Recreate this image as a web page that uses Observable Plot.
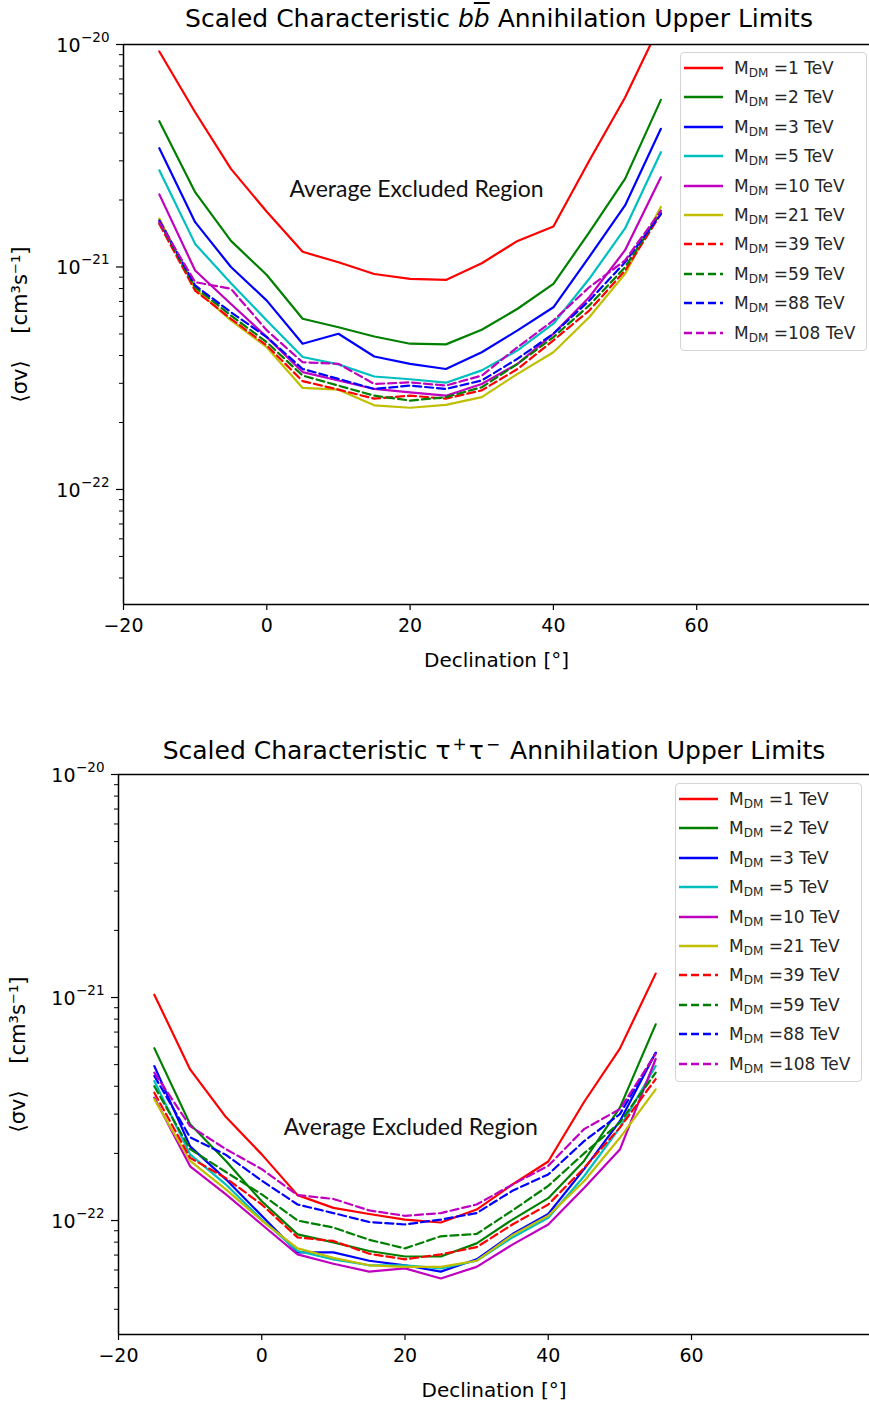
<!DOCTYPE html>
<html><head><meta charset="utf-8">
<script src="https://cdn.jsdelivr.net/npm/d3@7"></script>
<script src="https://cdn.jsdelivr.net/npm/@observablehq/plot@0.6"></script>
<style>
body{margin:0;background:#fff;}
#page{position:relative;width:869px;height:1407px;overflow:hidden;font-family:"DejaVu Sans";background:#fff;}
.title{position:absolute;font-size:25px;line-height:25px;color:#000;white-space:nowrap;transform:translateX(-50%);}
.title sup{font-size:17px;line-height:0;vertical-align:9px;padding:0 2px;}
.chart{position:absolute;left:0;}
.legend{position:absolute;border:1px solid #d4d4d4;border-radius:4px;background:rgba(255,255,255,0.85);box-sizing:border-box;}
.row{position:absolute;left:0;height:20px;font-size:17px;color:#262626;white-space:nowrap;}
.row svg{position:absolute;left:3px;top:0;}
.row span.t{position:absolute;left:53px;top:0;line-height:20px;}
.row sub{font-size:12px;vertical-align:-3px;line-height:0;}
</style></head>
<body><div id="page"></div>
<script>
// ---------- data ----------
const declination = [-15, -10, -5, 0, 5, 10, 15, 20, 25, 30, 35, 40, 45, 50, 55];
const massLabels = ["1", "2", "3", "5", "10", "21", "39", "59", "88", "108"];
const lineColors = ["#ff0000", "#008000", "#0000ff", "#00bfbf", "#bf00bf", "#bfbf00", "#ff0000", "#008000", "#0000ff", "#bf00bf"];
const isDashed = [false, false, false, false, false, false, true, true, true, true];

// b bbar channel
const bb_1TeV   = [9.3e-21, 4.96e-21, 2.76e-21, 1.77e-21, 1.17e-21, 1.05e-21, 9.3e-22, 8.85e-22, 8.75e-22, 1.04e-21, 1.31e-21, 1.52e-21, 3.0e-21, 5.78e-21, 1.25e-20];
const bb_2TeV   = [4.52e-21, 2.17e-21, 1.31e-21, 9.2e-22, 5.85e-22, 5.36e-22, 4.87e-22, 4.52e-22, 4.49e-22, 5.22e-22, 6.49e-22, 8.4e-22, 1.43e-21, 2.49e-21, 5.64e-21];
const bb_3TeV   = [3.42e-21, 1.59e-21, 1.0e-21, 7.06e-22, 4.52e-22, 5.01e-22, 3.96e-22, 3.67e-22, 3.48e-22, 4.14e-22, 5.19e-22, 6.59e-22, 1.11e-21, 1.89e-21, 4.18e-21];
const bb_5TeV   = [2.72e-21, 1.27e-21, 8.45e-22, 5.75e-22, 3.94e-22, 3.65e-22, 3.22e-22, 3.13e-22, 3.02e-22, 3.43e-22, 4.22e-22, 5.56e-22, 8.85e-22, 1.49e-21, 3.28e-21];
const bb_10TeV  = [2.12e-21, 9.64e-22, 6.82e-22, 4.84e-22, 3.37e-22, 3.09e-22, 2.83e-22, 2.73e-22, 2.64e-22, 2.98e-22, 3.67e-22, 5.01e-22, 7.31e-22, 1.19e-21, 2.53e-21];
const bb_21TeV  = [1.65e-21, 7.98e-22, 5.75e-22, 4.36e-22, 2.86e-22, 2.81e-22, 2.39e-22, 2.33e-22, 2.40e-22, 2.60e-22, 3.31e-22, 4.14e-22, 5.94e-22, 9.31e-22, 1.86e-21];
const bb_39TeV  = [1.56e-21, 7.83e-22, 5.85e-22, 4.44e-22, 3.07e-22, 2.81e-22, 2.56e-22, 2.64e-22, 2.56e-22, 2.79e-22, 3.48e-22, 4.68e-22, 6.37e-22, 9.63e-22, 1.73e-21];
const bb_59TeV  = [1.59e-21, 8.11e-22, 6.05e-22, 4.59e-22, 3.25e-22, 2.93e-22, 2.64e-22, 2.51e-22, 2.60e-22, 2.88e-22, 3.67e-22, 4.84e-22, 6.72e-22, 9.98e-22, 1.76e-21];
const bb_88TeV  = [1.62e-21, 8.26e-22, 6.26e-22, 4.84e-22, 3.48e-22, 3.14e-22, 2.83e-22, 2.93e-22, 2.83e-22, 3.09e-22, 3.87e-22, 5.01e-22, 7.06e-22, 1.05e-21, 1.73e-21];
const bb_108TeV = [1.59e-21, 8.55e-22, 7.98e-22, 5.19e-22, 3.73e-22, 3.67e-22, 2.98e-22, 3.03e-22, 2.93e-22, 3.25e-22, 4.36e-22, 5.75e-22, 8.11e-22, 1.07e-21, 1.79e-21];

// tau+ tau- channel
const tt_1TeV   = [1.03e-21, 4.76e-22, 2.91e-22, 1.98e-22, 1.30e-22, 1.14e-22, 1.07e-22, 1.01e-22, 9.8e-23, 1.12e-22, 1.45e-22, 1.84e-22, 3.4e-22, 5.9e-22, 1.28e-21];
const tt_2TeV   = [5.93e-22, 2.70e-22, 1.85e-22, 1.22e-22, 8.67e-23, 7.98e-23, 7.3e-23, 6.9e-23, 6.9e-23, 7.9e-23, 1.01e-22, 1.26e-22, 1.85e-22, 3.21e-22, 7.58e-22];
const tt_3TeV   = [4.93e-22, 2.15e-22, 1.53e-22, 1.05e-22, 7.2e-23, 7.2e-23, 6.6e-23, 6.3e-23, 5.9e-23, 6.7e-23, 8.7e-23, 1.07e-22, 1.7e-22, 2.79e-22, 5.65e-22];
const tt_5TeV   = [4.22e-22, 1.98e-22, 1.45e-22, 1.01e-22, 7.3e-23, 6.7e-23, 6.3e-23, 6.3e-23, 6.1e-23, 6.6e-23, 8.4e-23, 1.03e-22, 1.58e-22, 2.61e-22, 4.93e-22];
const tt_10TeV  = [3.56e-22, 1.75e-22, 1.31e-22, 9.6e-23, 7.05e-23, 6.4e-23, 5.9e-23, 6.1e-23, 5.5e-23, 6.2e-23, 7.8e-23, 9.6e-23, 1.4e-22, 2.08e-22, 5.3e-22];
const tt_21TeV  = [3.5e-22, 1.85e-22, 1.38e-22, 1.0e-22, 7.5e-23, 6.8e-23, 6.3e-23, 6.2e-23, 6.2e-23, 6.6e-23, 8.6e-23, 1.05e-22, 1.5e-22, 2.35e-22, 3.87e-22];
const tt_39TeV  = [3.74e-22, 1.91e-22, 1.55e-22, 1.18e-22, 8.4e-23, 8.1e-23, 7.1e-23, 6.7e-23, 7.05e-23, 7.6e-23, 9.6e-23, 1.18e-22, 1.72e-22, 2.61e-22, 4.31e-22];
const tt_59TeV  = [4.0e-22, 2.09e-22, 1.65e-22, 1.31e-22, 1.0e-22, 9.3e-23, 8.2e-23, 7.5e-23, 8.5e-23, 8.7e-23, 1.11e-22, 1.43e-22, 2.0e-22, 2.75e-22, 4.6e-22];
const tt_88TeV  = [4.45e-22, 2.36e-22, 1.97e-22, 1.51e-22, 1.18e-22, 1.08e-22, 9.85e-23, 9.6e-23, 1.01e-22, 1.08e-22, 1.36e-22, 1.61e-22, 2.27e-22, 3.0e-22, 5.65e-22];
const tt_108TeV = [4.6e-22, 2.65e-22, 2.09e-22, 1.70e-22, 1.30e-22, 1.25e-22, 1.11e-22, 1.05e-22, 1.08e-22, 1.18e-22, 1.45e-22, 1.76e-22, 2.57e-22, 3.16e-22, 5.58e-22];

const xTicks = [-20, 0, 20, 40, 60];
const yTicks = [1e-22, 1e-21, 1e-20];
const annotationText = ["Average Excluded Region", "Average Excluded Region"];
const annotationDecl = [20.9, 20.8];
const annotationValue = [2.23e-21, 2.6e-22];
const xLabel = "Declination [°]";
const yLabel = "\u27e8\u03c3v\u27e9\u00a0\u00a0\u00a0\u00a0[cm\u00b3s\u207b\u00b9]";

const bbSeries = [bb_1TeV, bb_2TeV, bb_3TeV, bb_5TeV, bb_10TeV, bb_21TeV, bb_39TeV, bb_59TeV, bb_88TeV, bb_108TeV];
const ttSeries = [tt_1TeV, tt_2TeV, tt_3TeV, tt_5TeV, tt_10TeV, tt_21TeV, tt_39TeV, tt_59TeV, tt_88TeV, tt_108TeV];

// ---------- helpers ----------
const allMinor = [];
for (let e = -23; e <= -21; e++) for (let k = 2; k <= 9; k++) allMinor.push(k * Math.pow(10, e));
const expText = d => "\u2212" + Math.abs(Math.round(Math.log10(d)));

function buildRows(series) {
  const rows = [];
  series.forEach((vals, i) => vals.forEach((v, j) => rows.push({decl: declination[j], val: v, mass: massLabels[i], dashed: isDashed[i]})));
  return rows;
}

function makeChart(series, opts) {
  const rows = buildRows(series);
  const ymin = opts.ymin;
  const minorTicks = allMinor.filter(v => v >= ymin && v <= 1e-20);
  const line = {x: "decl", y: "val", z: "mass", stroke: "mass", strokeWidth: 2.2, clip: true};
  return Plot.plot({
    width: 869, height: opts.height,
    marginLeft: opts.marginLeft, marginRight: 0, marginTop: 44, marginBottom: opts.marginBottom,
    style: {fontFamily: "DejaVu Sans", fontSize: "19px", color: "#000", background: "transparent", overflow: "visible"},
    x: {domain: [-20, opts.xmax]},
    y: {type: "log", domain: [ymin, 1e-20]},
    color: {domain: massLabels, range: lineColors},
    marks: [
      Plot.line(rows.filter(d => !d.dashed), line),
      Plot.line(rows.filter(d => d.dashed), {...line, strokeDasharray: "8,4"}),
      Plot.axisX({ticks: xTicks, tickSize: 6, tickPadding: 8, label: null, stroke: "#000", strokeWidth: 1.2}),
      Plot.axisY({ticks: yTicks, tickSize: 7, label: null, tickFormat: () => "", stroke: "#000", strokeWidth: 1.2}),
      Plot.axisY({ticks: minorTicks, tickSize: 4, label: null, tickFormat: () => "", stroke: "#000", strokeWidth: 1}),
      Plot.text(yTicks, {frameAnchor: "left", y: d => d, text: () => "10", textAnchor: "end", dx: -43, dy: 1, fontSize: 19}),
      Plot.text(yTicks, {frameAnchor: "left", y: d => d, text: expText, textAnchor: "end", dx: -14, dy: -7, fontSize: 13.5}),
      Plot.ruleX([-20], {stroke: "#000", strokeWidth: 1.5}),
      Plot.ruleY([1e-20, ymin], {stroke: "#000", strokeWidth: 1.5}),
      Plot.text([opts.anno], {x: d => d.decl, y: d => d.value, text: d => d.text, fontFamily: "Lato", fontSize: 23, fill: "#111"}),
      Plot.text([xLabel], {frameAnchor: "bottom", text: d => d, dy: 48, lineAnchor: "top", fontSize: 20}),
      Plot.text([yLabel], {frameAnchor: "left", text: d => d, rotate: -90, textAnchor: "middle", dx: opts.ylabelDx, fontSize: 21})
    ]
  });
}

function makeLegend(left, top) {
  const box = document.createElement("div");
  box.className = "legend";
  Object.assign(box.style, {left: left + "px", top: top + "px", width: "187px", height: "299px"});
  massLabels.forEach((m, i) => {
    const row = document.createElement("div");
    row.className = "row";
    row.style.top = (4.7 + i * 29.45) + "px";
    row.style.width = "180px";
    const dash = isDashed[i] ? ' stroke-dasharray="8,4"' : "";
    row.innerHTML = `<svg width="40" height="20"><line x1="0" x2="39" y1="10" y2="10" stroke="${lineColors[i]}" stroke-width="2.4"${dash}/></svg><span class="t">M<sub>DM</sub> =${m} TeV</span>`;
    box.appendChild(row);
  });
  return box;
}

const page = document.getElementById("page");

// ----- top chart -----
const t1 = document.createElement("div");
t1.className = "title";
t1.style.left = "499px"; t1.style.top = "6px";
t1.innerHTML = 'Scaled Characteristic <i>b</i><i style="text-decoration:overline">b</i> Annihilation Upper Limits';
page.appendChild(t1);

const c1 = makeChart(bbSeries, {height: 700, marginLeft: 123, marginBottom: 96, ymin: Math.pow(10, -22.517), xmax: -20 + 746 / 7.165, ylabelDx: -103,
  anno: {decl: annotationDecl[0], value: annotationValue[0], text: annotationText[0]}});
c1.classList.add("chart"); c1.style.top = "0px";
page.appendChild(c1);
page.appendChild(makeLegend(680, 52));

// ----- bottom chart -----
const t2 = document.createElement("div");
t2.className = "title";
t2.style.left = "494px"; t2.style.top = "738px";
t2.innerHTML = 'Scaled Characteristic \u03c4<sup>+</sup>\u03c4<sup>\u2212</sup> Annihilation Upper Limits';
page.appendChild(t2);

const c2 = makeChart(ttSeries, {height: 677, marginLeft: 118, marginBottom: 73, ymin: Math.pow(10, -22.511), xmax: -20 + 751 / 7.1625, ylabelDx: -100,
  anno: {decl: annotationDecl[1], value: annotationValue[1], text: annotationText[1]}});
c2.classList.add("chart"); c2.style.top = "730px";
page.appendChild(c2);
page.appendChild(makeLegend(675, 783));
</script>
</body></html>
